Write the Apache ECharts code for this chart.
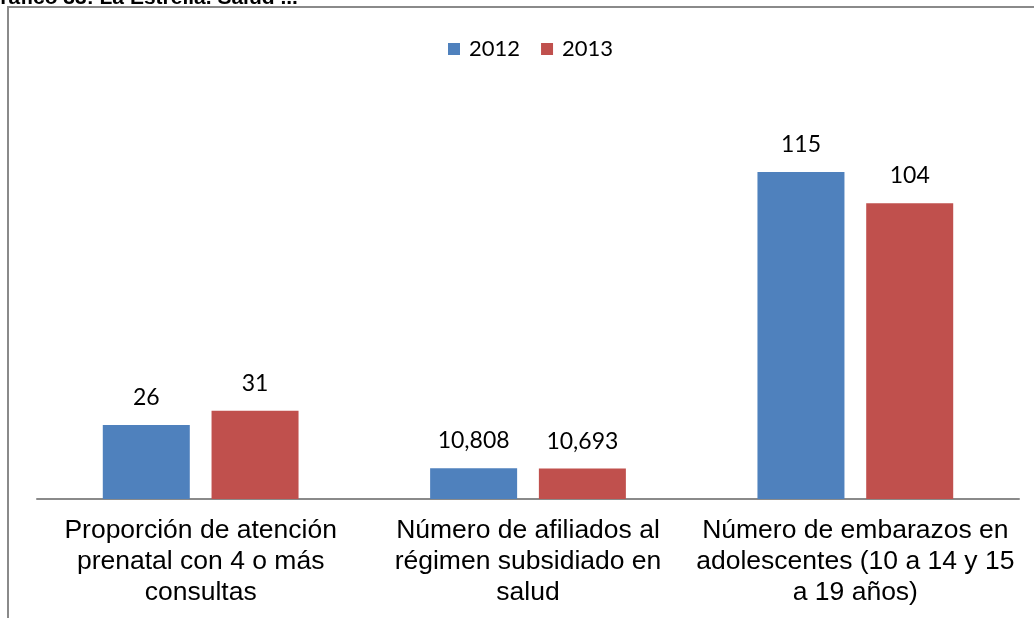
<!DOCTYPE html>
<html>
<head>
<meta charset="utf-8">
<script src="https://cdn.jsdelivr.net/npm/echarts@6/dist/echarts.min.js"></script>
<style>
html,body{margin:0;padding:0;background:#fff;}
#chart{width:1034px;height:618px;}
</style>
</head>
<body>
<div id="chart"></div>
<script>
var categories = [
  "Proporción de atención\nprenatal con 4 o más\nconsultas",
  "Número de afiliados al\nrégimen subsidiado en\nsalud",
  "Número de embarazos en\nadolescentes (10 a 14 y 15\na 19 años)"
];
var seriesNames = ["2012", "2013"];
var values2012 = [26, 10.808, 115];
var values2013 = [31, 10.693, 104];
var titleText = "Gráfico 33: La Estrella. Salud ...";

function fmt(v) {
  return Number.isInteger(v) ? String(v) : v.toFixed(3).replace('.', ',');
}

var chart = echarts.init(document.getElementById('chart'));
var labelCfg = {
  show: true, position: 'top', distance: 16,
  fontFamily: 'Lato', fontSize: 23, color: '#000',
  formatter: function (p) { return fmt(p.value); }
};
chart.setOption({
  animation: false,
  backgroundColor: '#fff',
  graphic: [
    { type: 'rect', shape: { x: 8, y: 7, width: 1040, height: 620 },
      style: { fill: 'none', stroke: '#8a8a8a', lineWidth: 2 } },
    { type: 'text', x: -16, y: 9,
      style: { text: titleText, font: 'bold 21px "Liberation Sans", Arial', fill: '#000', verticalAlign: 'bottom' } }
  ],
  legend: {
    data: seriesNames, top: 33, left: 443,
    itemWidth: 12, itemHeight: 12, itemGap: 21,
    icon: 'rect',
    textStyle: { fontFamily: 'Lato', fontSize: 22, color: '#000', padding: [0, 0, 0, 4] }
  },
  grid: { left: 37, right: 15, top: 101, bottom: 119 },
  xAxis: {
    type: 'category', data: categories,
    axisLine: { lineStyle: { color: '#8a8a8a', width: 2 } },
    axisTick: { show: false },
    axisLabel: { interval: 0, margin: 16, fontFamily: '"Liberation Sans", Arial', fontSize: 26.5, lineHeight: 31, color: '#000' }
  },
  yAxis: {
    type: 'value', min: 0, max: 140, show: false,
    splitLine: { show: false }
  },
  series: [
    { name: seriesNames[0], type: 'bar', data: values2012, barWidth: 87, barGap: '25%',
      itemStyle: { color: '#4F81BD' }, label: labelCfg },
    { name: seriesNames[1], type: 'bar', data: values2013, barWidth: 87, barGap: '25%',
      itemStyle: { color: '#C0504D' }, label: labelCfg }
  ]
});
</script>
</body>
</html>
